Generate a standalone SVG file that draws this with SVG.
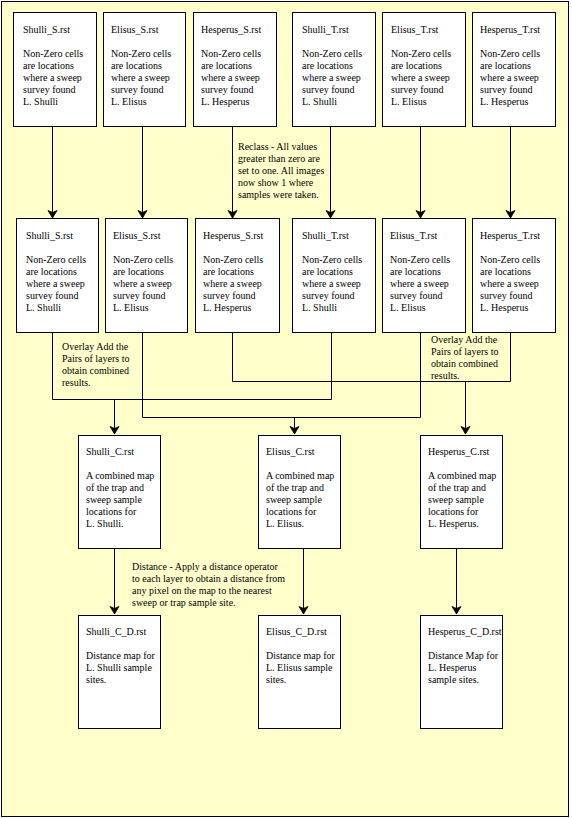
<svg xmlns="http://www.w3.org/2000/svg" width="572" height="818" viewBox="0 0 572 818">
<style>
.bg{fill:#FFFFCC;stroke:#000;stroke-width:1}
.box{fill:#fff;stroke:#000;stroke-width:1}
text{font-family:"Liberation Serif","Times New Roman",serif;font-size:10px;fill:#000}
.ln{fill:none;stroke:#000;stroke-width:1}
</style>
<defs>
<marker id="ah" markerUnits="userSpaceOnUse" markerWidth="12" markerHeight="12" viewBox="-9 -6 10 12" refX="0" refY="0" orient="auto" overflow="visible">
<path d="M-7.5,-4.5 L-5.5,0 L-7.5,4.5 L0,0 Z" fill="#000" stroke="#000" stroke-width="0.8"/>
</marker>
</defs>
<rect class="bg" x="1.5" y="1.5" width="567" height="815"/>

<g id="connectors">
<path class="ln" d="M52.5,126 V218" marker-end="url(#ah)"/>
<path class="ln" d="M142.5,126 V218" marker-end="url(#ah)"/>
<path class="ln" d="M232.5,126 V218" marker-end="url(#ah)"/>
<path class="ln" d="M330.5,126 V218" marker-end="url(#ah)"/>
<path class="ln" d="M420.5,126 V218" marker-end="url(#ah)"/>
<path class="ln" d="M510.5,126 V218" marker-end="url(#ah)"/>
<path class="ln" d="M52.5,332 V399.5 H331.5 V332"/>
<path class="ln" d="M114.5,399.5 V434" marker-end="url(#ah)"/>
<path class="ln" d="M142.5,332 V417.5 H420.5 V332"/>
<path class="ln" d="M294.5,417.5 V434" marker-end="url(#ah)"/>
<path class="ln" d="M232.5,332 V381.5 H510.5 V332"/>
<path class="ln" d="M465.5,381.5 V434" marker-end="url(#ah)"/>
<path class="ln" d="M114.5,548 V614" marker-end="url(#ah)"/>
<path class="ln" d="M303.5,548 V614" marker-end="url(#ah)"/>
<path class="ln" d="M456.5,548 V614" marker-end="url(#ah)"/>
</g>

<g id="lbl-reclass">
<text x="238" y="150">Reclass - All values</text>
<text x="238" y="162">greater than zero are</text>
<text x="238" y="174">set to one.  All images</text>
<text x="238" y="186">now show 1 where</text>
<text x="238" y="198">samples were taken.</text>
</g>
<g id="lbl-overlay-left">
<text x="62" y="350">Overlay Add the</text>
<text x="62" y="362">Pairs of layers to</text>
<text x="62" y="374">obtain combined</text>
<text x="62" y="386">results.</text>
</g>
<g id="lbl-overlay-right">
<text x="431" y="343">Overlay Add the</text>
<text x="431" y="355">Pairs of layers to</text>
<text x="431" y="367">obtain combined</text>
<text x="431" y="379">results.</text>
</g>
<g id="lbl-distance">
<text x="132" y="570">Distance - Apply a distance operator</text>
<text x="132" y="582">to each layer to obtain a distance from</text>
<text x="132" y="594">any pixel on the map to the nearest</text>
<text x="132" y="606">sweep or trap sample site.</text>
</g>

<g id="n-shulli-s1">
<rect class="box" x="13.5" y="12.5" width="83" height="114"/>
<text x="23" y="33">Shulli_S.rst</text>
<text x="23" y="57">Non-Zero cells</text>
<text x="23" y="69">are locations</text>
<text x="23" y="81">where a sweep</text>
<text x="23" y="93">survey found</text>
<text x="23" y="105">L. Shulli</text>
</g>
<g id="n-elisus-s1">
<rect class="box" x="103.5" y="12.5" width="82" height="114"/>
<text x="111" y="33">Elisus_S.rst</text>
<text x="111" y="57">Non-Zero cells</text>
<text x="111" y="69">are locations</text>
<text x="111" y="81">where a sweep</text>
<text x="111" y="93">survey found</text>
<text x="111" y="105">L. Elisus</text>
</g>
<g id="n-hesperus-s1">
<rect class="box" x="193.5" y="12.5" width="83" height="114"/>
<text x="201" y="33">Hesperus_S.rst</text>
<text x="201" y="57">Non-Zero cells</text>
<text x="201" y="69">are locations</text>
<text x="201" y="81">where a sweep</text>
<text x="201" y="93">survey found</text>
<text x="201" y="105">L. Hesperus</text>
</g>
<g id="n-shulli-t1">
<rect class="box" x="292.5" y="12.5" width="83" height="114"/>
<text x="302" y="33">Shulli_T.rst</text>
<text x="302" y="57">Non-Zero cells</text>
<text x="302" y="69">are locations</text>
<text x="302" y="81">where a sweep</text>
<text x="302" y="93">survey found</text>
<text x="302" y="105">L. Shulli</text>
</g>
<g id="n-elisus-t1">
<rect class="box" x="382.5" y="12.5" width="83" height="114"/>
<text x="391" y="33">Elisus_T.rst</text>
<text x="391" y="57">Non-Zero cells</text>
<text x="391" y="69">are locations</text>
<text x="391" y="81">where a sweep</text>
<text x="391" y="93">survey found</text>
<text x="391" y="105">L. Elisus</text>
</g>
<g id="n-hesperus-t1">
<rect class="box" x="472.5" y="12.5" width="83" height="114"/>
<text x="480" y="33">Hesperus_T.rst</text>
<text x="480" y="57">Non-Zero cells</text>
<text x="480" y="69">are locations</text>
<text x="480" y="81">where a sweep</text>
<text x="480" y="93">survey found</text>
<text x="480" y="105">L. Hesperus</text>
</g>

<g id="n-shulli-s2">
<rect class="box" x="16.5" y="218.5" width="82" height="114"/>
<text x="26" y="239">Shulli_S.rst</text>
<text x="26" y="263">Non-Zero cells</text>
<text x="26" y="275">are locations</text>
<text x="26" y="287">where a sweep</text>
<text x="26" y="299">survey found</text>
<text x="26" y="311">L. Shulli</text>
</g>
<g id="n-elisus-s2">
<rect class="box" x="105.5" y="218.5" width="82" height="114"/>
<text x="113" y="239">Elisus_S.rst</text>
<text x="113" y="263">Non-Zero cells</text>
<text x="113" y="275">are locations</text>
<text x="113" y="287">where a sweep</text>
<text x="113" y="299">survey found</text>
<text x="113" y="311">L. Elisus</text>
</g>
<g id="n-hesperus-s2">
<rect class="box" x="195.5" y="218.5" width="84" height="114"/>
<text x="203" y="239">Hesperus_S.rst</text>
<text x="203" y="263">Non-Zero cells</text>
<text x="203" y="275">are locations</text>
<text x="203" y="287">where a sweep</text>
<text x="203" y="299">survey found</text>
<text x="203" y="311">L. Hesperus</text>
</g>
<g id="n-shulli-t2">
<rect class="box" x="292.5" y="218.5" width="83" height="114"/>
<text x="302" y="239">Shulli_T.rst</text>
<text x="302" y="263">Non-Zero cells</text>
<text x="302" y="275">are locations</text>
<text x="302" y="287">where a sweep</text>
<text x="302" y="299">survey found</text>
<text x="302" y="311">L. Shulli</text>
</g>
<g id="n-elisus-t2">
<rect class="box" x="382.5" y="218.5" width="83" height="114"/>
<text x="390" y="239">Elisus_T.rst</text>
<text x="390" y="263">Non-Zero cells</text>
<text x="390" y="275">are locations</text>
<text x="390" y="287">where a sweep</text>
<text x="390" y="299">survey found</text>
<text x="390" y="311">L. Elisus</text>
</g>
<g id="n-hesperus-t2">
<rect class="box" x="472.5" y="218.5" width="83" height="114"/>
<text x="480" y="239">Hesperus_T.rst</text>
<text x="480" y="263">Non-Zero cells</text>
<text x="480" y="275">are locations</text>
<text x="480" y="287">where a sweep</text>
<text x="480" y="299">survey found</text>
<text x="480" y="311">L. Hesperus</text>
</g>

<g id="n-shulli-c">
<rect class="box" x="78.5" y="435.5" width="82" height="113"/>
<text x="86" y="455">Shulli_C.rst</text>
<text x="86" y="479">A combined map</text>
<text x="86" y="491">of the trap and</text>
<text x="86" y="503">sweep sample</text>
<text x="86" y="515">locations for</text>
<text x="86" y="527">L. Shulli.</text>
</g>
<g id="n-elisus-c">
<rect class="box" x="258.5" y="435.5" width="82" height="113"/>
<text x="266" y="455">Elisus_C.rst</text>
<text x="266" y="479">A combined map</text>
<text x="266" y="491">of the trap and</text>
<text x="266" y="503">sweep sample</text>
<text x="266" y="515">locations for</text>
<text x="266" y="527">L. Elisus.</text>
</g>
<g id="n-hesperus-c">
<rect class="box" x="420.5" y="435.5" width="82" height="113"/>
<text x="428" y="455">Hesperus_C.rst</text>
<text x="428" y="479">A combined map</text>
<text x="428" y="491">of the trap and</text>
<text x="428" y="503">sweep sample</text>
<text x="428" y="515">locations for</text>
<text x="428" y="527">L. Hesperus.</text>
</g>

<g id="n-shulli-cd">
<rect class="box" x="78.5" y="615.5" width="82" height="113"/>
<text x="86" y="635">Shulli_C_D.rst</text>
<text x="86" y="659">Distance map for</text>
<text x="86" y="671">L. Shulli sample</text>
<text x="86" y="683">sites.</text>
</g>
<g id="n-elisus-cd">
<rect class="box" x="258.5" y="615.5" width="82" height="113"/>
<text x="266" y="635">Elisus_C_D.rst</text>
<text x="266" y="659">Distance map for</text>
<text x="266" y="671">L. Elisus sample</text>
<text x="266" y="683">sites.</text>
</g>
<g id="n-hesperus-cd">
<rect class="box" x="420.5" y="615.5" width="82" height="113"/>
<text x="428" y="635">Hesperus_C_D.rst</text>
<text x="428" y="659">Distance Map for</text>
<text x="428" y="671">L. Hesperus</text>
<text x="428" y="683">sample sites.</text>
</g>
</svg>
